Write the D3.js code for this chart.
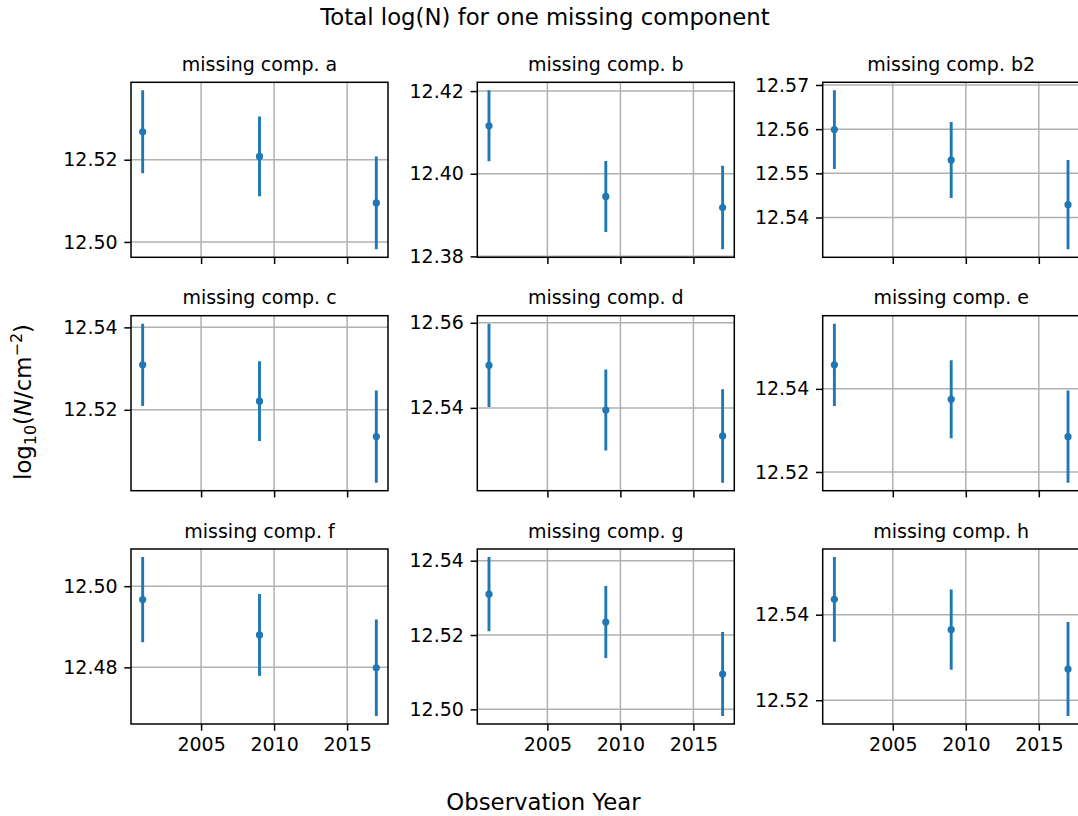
<!DOCTYPE html>
<html>
<head>
<meta charset="utf-8">
<script src="https://cdn.jsdelivr.net/npm/d3@7"></script>
<style>
  html, body { margin: 0; padding: 0; background: #fff; }
  svg { display: block; font-family: "DejaVu Sans", sans-serif; }
</style>
</head>
<body>
<svg id="chart" width="1078" height="816"></svg>
<script>
// ---- data ----
const years = [2001, 2009, 2017];
const xTicks = [2005, 2010, 2015];
const panelTitles = ["missing comp. a", "missing comp. b", "missing comp. b2",
                     "missing comp. c", "missing comp. d", "missing comp. e",
                     "missing comp. f", "missing comp. g", "missing comp. h"];
const valuesA  = [12.5268, 12.5208, 12.5095];
const errorsA  = [0.0101, 0.0097, 0.0113];
const valuesB  = [12.4116, 12.3945, 12.3918];
const errorsB  = [0.0086, 0.0086, 0.0101];
const valuesB2 = [12.5599, 12.5530, 12.5429];
const errorsB2 = [0.0089, 0.0086, 0.0101];
const valuesC  = [12.5309, 12.5221, 12.5135];
const errorsC  = [0.0100, 0.0097, 0.0112];
const valuesD  = [12.5500, 12.5395, 12.5334];
const errorsD  = [0.0098, 0.0095, 0.0110];
const valuesE  = [12.5458, 12.5375, 12.5285];
const errorsE  = [0.0099, 0.0094, 0.0111];
const valuesF  = [12.4967, 12.4880, 12.4799];
const errorsF  = [0.0105, 0.0101, 0.0119];
const valuesG  = [12.5310, 12.5235, 12.5095];
const errorsG  = [0.0100, 0.0097, 0.0113];
const valuesH  = [12.5436, 12.5365, 12.5273];
const errorsH  = [0.0099, 0.0094, 0.0110];
const yTicksA  = [12.50, 12.52];
const yTicksB  = [12.38, 12.40, 12.42];
const yTicksB2 = [12.54, 12.55, 12.56, 12.57];
const yTicksC  = [12.52, 12.54];
const yTicksD  = [12.54, 12.56];
const yTicksE  = [12.52, 12.54];
const yTicksF  = [12.48, 12.50];
const yTicksG  = [12.50, 12.52, 12.54];
const yTicksH  = [12.52, 12.54];

const allValues = [valuesA, valuesB, valuesB2, valuesC, valuesD, valuesE, valuesF, valuesG, valuesH];
const allErrors = [errorsA, errorsB, errorsB2, errorsC, errorsD, errorsE, errorsF, errorsG, errorsH];
const allYTicks = [yTicksA, yTicksB, yTicksB2, yTicksC, yTicksD, yTicksE, yTicksF, yTicksG, yTicksH];

// ---- layout ----
const colLeft = [131, 477.3, 822.7];
const rowTop = [82.3, 315.7, 549];
const pw = 257, ph = 175;
const blue = "#1f77b4";
const tickFont = 19, titleFont = 19, bigFont = 22.8;
const tickLen = 6.7, tickPad = 6.7;

const svg = d3.select("#chart");

// suptitle
svg.append("text").attr("x", 545).attr("y", 25).attr("text-anchor", "middle")
  .attr("font-size", bigFont).attr("fill", "#000").text("Total log(N) for one missing component");

// supxlabel
svg.append("text").attr("x", 543.5).attr("y", 810).attr("text-anchor", "middle")
  .attr("font-size", bigFont).attr("fill", "#000").text("Observation Year");

// supylabel
const yl = svg.append("text").attr("transform", "translate(31,402) rotate(-90)")
  .attr("text-anchor", "middle").attr("font-size", bigFont).attr("fill", "#000");
yl.append("tspan").text("log");
yl.append("tspan").attr("font-size", bigFont * 0.7).attr("dy", 5).text("10");
yl.append("tspan").attr("dy", -5).text("(");
yl.append("tspan").attr("font-style", "italic").text("N");
yl.append("tspan").text("/cm");
yl.append("tspan").attr("font-size", bigFont * 0.7).attr("dy", -9).text("\u22122");
yl.append("tspan").attr("dy", 9).text(")");

const xDomain = [years[0] - 0.05 * (years[2] - years[0]), years[2] + 0.05 * (years[2] - years[0])];

allValues.forEach((vals, i) => {
  const r = Math.floor(i / 3), c = i % 3;
  const errs = allErrors[i];
  const x0 = colLeft[c], y0 = rowTop[r];
  const lo = d3.min(vals.map((v, k) => v - errs[k]));
  const hi = d3.max(vals.map((v, k) => v + errs[k]));
  const m = 0.05 * (hi - lo);
  const x = d3.scaleLinear().domain(xDomain).range([0, pw]);
  const y = d3.scaleLinear().domain([lo - m, hi + m]).range([ph, 0]);

  const g = svg.append("g").attr("transform", `translate(${x0},${y0})`);
  const clipId = "clip" + i;
  g.append("clipPath").attr("id", clipId).append("rect").attr("width", pw).attr("height", ph);

  // grid
  const grid = g.append("g").attr("clip-path", `url(#${clipId})`);
  grid.selectAll("line.gx").data(xTicks).join("line")
    .attr("x1", d => x(d)).attr("x2", d => x(d)).attr("y1", 0).attr("y2", ph)
    .attr("stroke", "#b0b0b0").attr("stroke-width", 1.5);
  grid.selectAll("line.gy").data(allYTicks[i]).join("line")
    .attr("class", "gy")
    .attr("y1", d => y(d)).attr("y2", d => y(d)).attr("x1", 0).attr("x2", pw)
    .attr("stroke", "#b0b0b0").attr("stroke-width", 1.5);

  // data
  const pts = vals.map((v, k) => ({ yr: years[k], v, e: errs[k] }));
  const dg = g.append("g").attr("clip-path", `url(#${clipId})`);
  dg.selectAll("line.err").data(pts).join("line").attr("class", "err")
    .attr("x1", d => x(d.yr)).attr("x2", d => x(d.yr))
    .attr("y1", d => y(d.v - d.e)).attr("y2", d => y(d.v + d.e))
    .attr("stroke", blue).attr("stroke-width", 2.9);
  dg.selectAll("circle").data(pts).join("circle")
    .attr("cx", d => x(d.yr)).attr("cy", d => y(d.v)).attr("r", 3.6).attr("fill", blue);

  // axes
  const yAxis = d3.axisLeft(y).tickValues(allYTicks[i]).tickFormat(d3.format(".2f"))
    .tickSizeInner(tickLen).tickSizeOuter(0).tickPadding(tickPad);
  const ya = g.append("g").call(yAxis);
  ya.select(".domain").remove();
  ya.selectAll(".tick line").attr("stroke", "#000").attr("stroke-width", 1.5);
  ya.selectAll("text").attr("font-size", tickFont).attr("font-family", "DejaVu Sans").attr("fill", "#000");

  const xAxis = d3.axisBottom(x).tickValues(xTicks).tickFormat(r === 2 ? d3.format("d") : () => "")
    .tickSizeInner(tickLen).tickSizeOuter(0).tickPadding(tickPad);
  const xa = g.append("g").attr("transform", `translate(0,${ph})`).call(xAxis);
  xa.select(".domain").remove();
  xa.selectAll(".tick line").attr("stroke", "#000").attr("stroke-width", 1.5);
  xa.selectAll("text").attr("font-size", tickFont).attr("font-family", "DejaVu Sans").attr("fill", "#000");

  // spines
  g.append("rect").attr("width", pw).attr("height", ph).attr("fill", "none")
    .attr("stroke", "#000").attr("stroke-width", 1.5);

  // title
  g.append("text").attr("x", pw / 2).attr("y", -11.5).attr("text-anchor", "middle")
    .attr("font-size", titleFont).attr("fill", "#000").text(panelTitles[i]);
});
</script>
</body>
</html>
